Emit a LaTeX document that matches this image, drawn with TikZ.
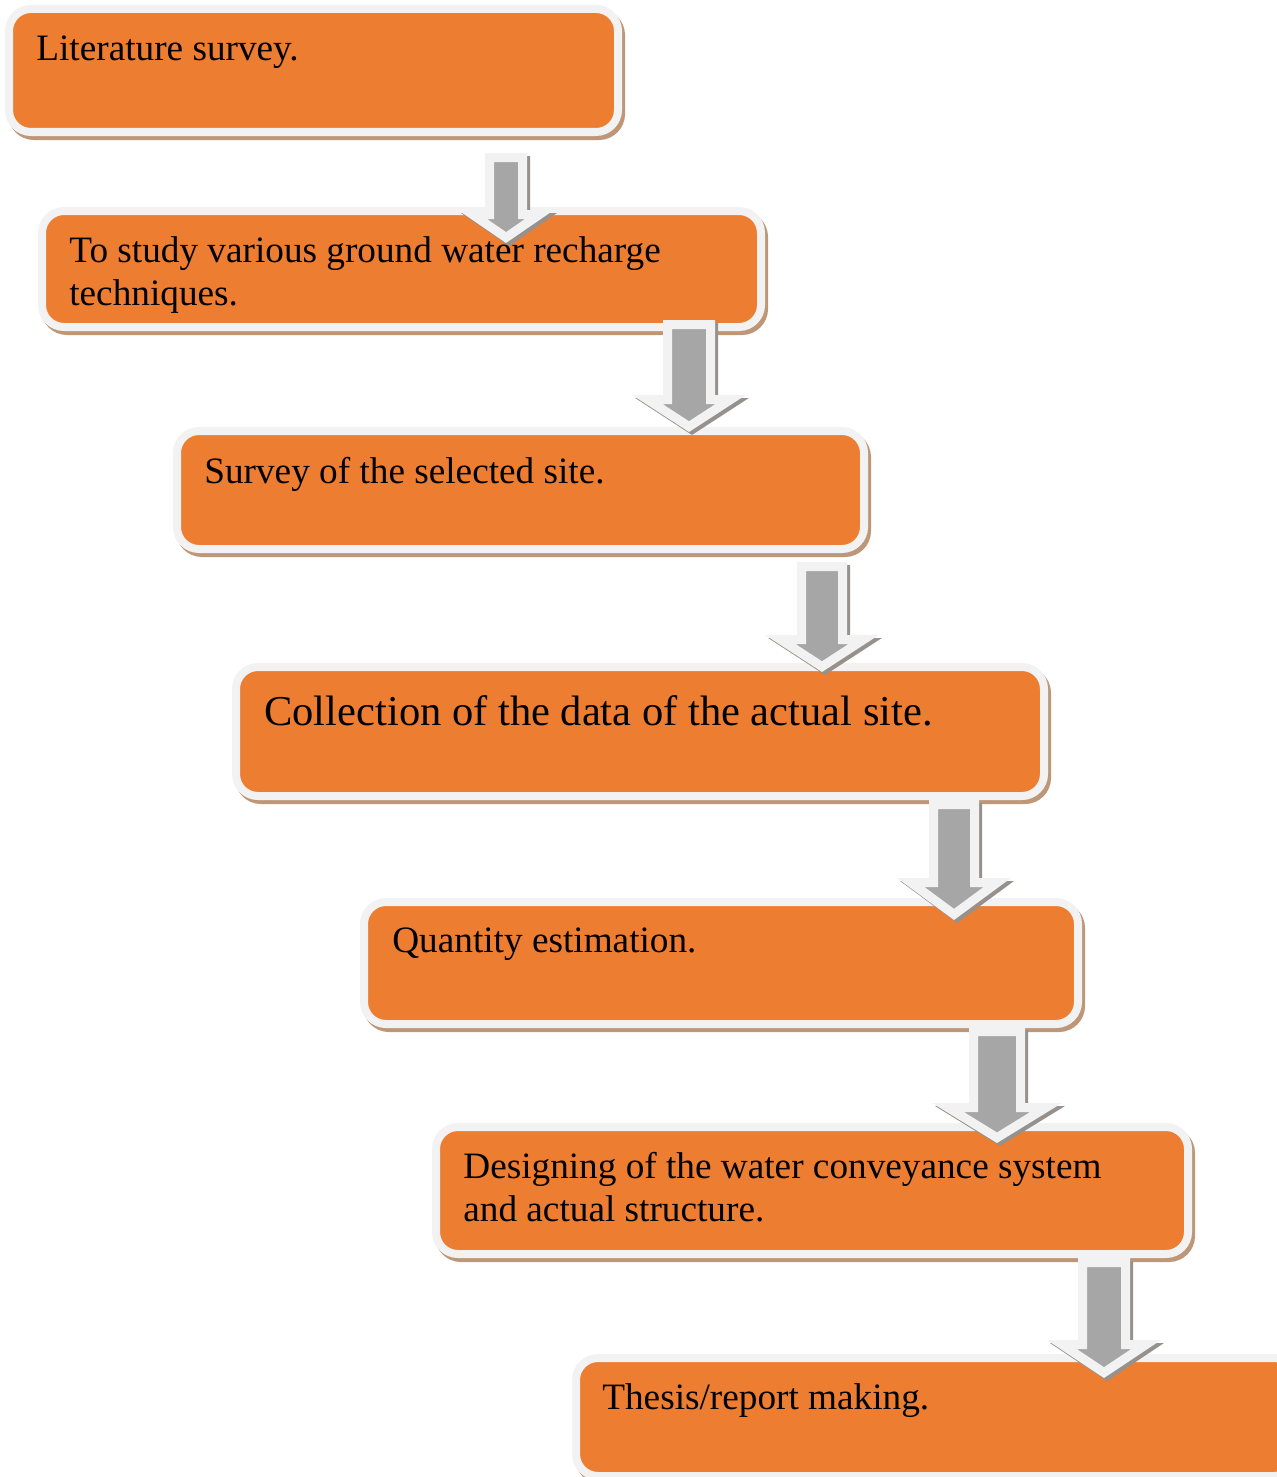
\documentclass[tikz,border=0pt]{standalone}
\usepackage{fontspec}
\setmainfont{Liberation Serif}
\usetikzlibrary{calc}

\definecolor{boxorange}{HTML}{ED7D31}
\definecolor{rimgray}{HTML}{F2F2F2}
\definecolor{shaftgray}{HTML}{A6A6A6}
\definecolor{boxshade}{RGB}{190,150,120}
\definecolor{arrowshade}{RGB}{150,145,140}

\newcommand\px{0.02cm}

\tikzset{
  stepbox/.style={draw=rimgray, fill=boxorange, line width=8*\px,
    rounded corners=22*\px, anchor=north west, inner sep=0pt,
    preaction={draw=boxshade, line width=8*\px, transform canvas={shift={(3,4)}}}},
  steptext/.style={anchor=base west, inner sep=0pt, align=left,
    font=\fontsize{21.2pt}{24.4pt}\selectfont},
  downarrow/.style={draw=rimgray, fill=shaftgray, line width=9*\px, miter limit=10,
    preaction={draw=arrowshade, fill=arrowshade, line width=9*\px,
      transform canvas={shift={(3,3)}}}}
}

\begin{document}
\begin{tikzpicture}[x=0.02cm, y=-0.02cm]
  \useasboundingbox (0,0) rectangle (1277,1477);

  % boxes
  \node[stepbox, minimum width=609*\px, minimum height=123*\px] (lit) at (5,5) {};
  \node[stepbox, minimum width=719*\px, minimum height=116*\px] (study) at (38,207) {};
  \node[stepbox, minimum width=687*\px, minimum height=118*\px] (survey) at (173,427) {};
  \node[stepbox, minimum width=808*\px, minimum height=129*\px] (collect) at (232,663) {};
  \node[stepbox, minimum width=714*\px, minimum height=122*\px] (quantity) at (360,898) {};
  \node[stepbox, minimum width=752*\px, minimum height=127*\px] (design) at (432,1123) {};
  \node[stepbox, minimum width=720*\px, minimum height=118*\px] (thesis) at (572,1354) {};

  % arrows
  \foreach \cx/\yt/\ye/\yp/\sh/\hh in {506/157.5/214.5/237.5/16.5/33.5,
      689/324.5/399.5/426.6/21.5/41.7, 822/566.5/639.5/666.6/20.5/41.7,
      954/804.5/882.5/914.4/20.5/43.3, 997/1031.5/1107.5/1137.7/23.5/49.1,
      1104/1262.5/1344.5/1372.6/21.5/42.2}
    \draw[downarrow] (\cx-\sh,\yt) -- (\cx+\sh,\yt) -- (\cx+\sh,\ye) -- (\cx+\hh,\ye)
      -- (\cx,\yp) -- (\cx-\hh,\ye) -- (\cx-\sh,\ye) -- cycle;

  % labels
  \node[steptext] (litlabel) at ($(lit.north west)+(31,56)$) {Literature survey.};
  \node[steptext] (studylabel) at ($(study.north west)+(31,98)$)
    {To study various ground water recharge\\techniques.};
  \node[steptext] (surveylabel) at ($(survey.north west)+(31,56)$) {Survey of the selected site.};
  \node[steptext, font=\fontsize{24.2pt}{28pt}\selectfont] (collectlabel)
    at ($(collect.north west)+(32,62)$) {Collection of the data of the actual site.};
  \node[steptext] (quantitylabel) at ($(quantity.north west)+(32,54)$) {Quantity estimation.};
  \node[steptext] (designlabel) at ($(design.north west)+(31,98)$)
    {Designing of the water conveyance system\\and actual structure.};
  \node[steptext] (thesislabel) at ($(thesis.north west)+(30,55)$) {Thesis/report making.};
\end{tikzpicture}
\end{document}
